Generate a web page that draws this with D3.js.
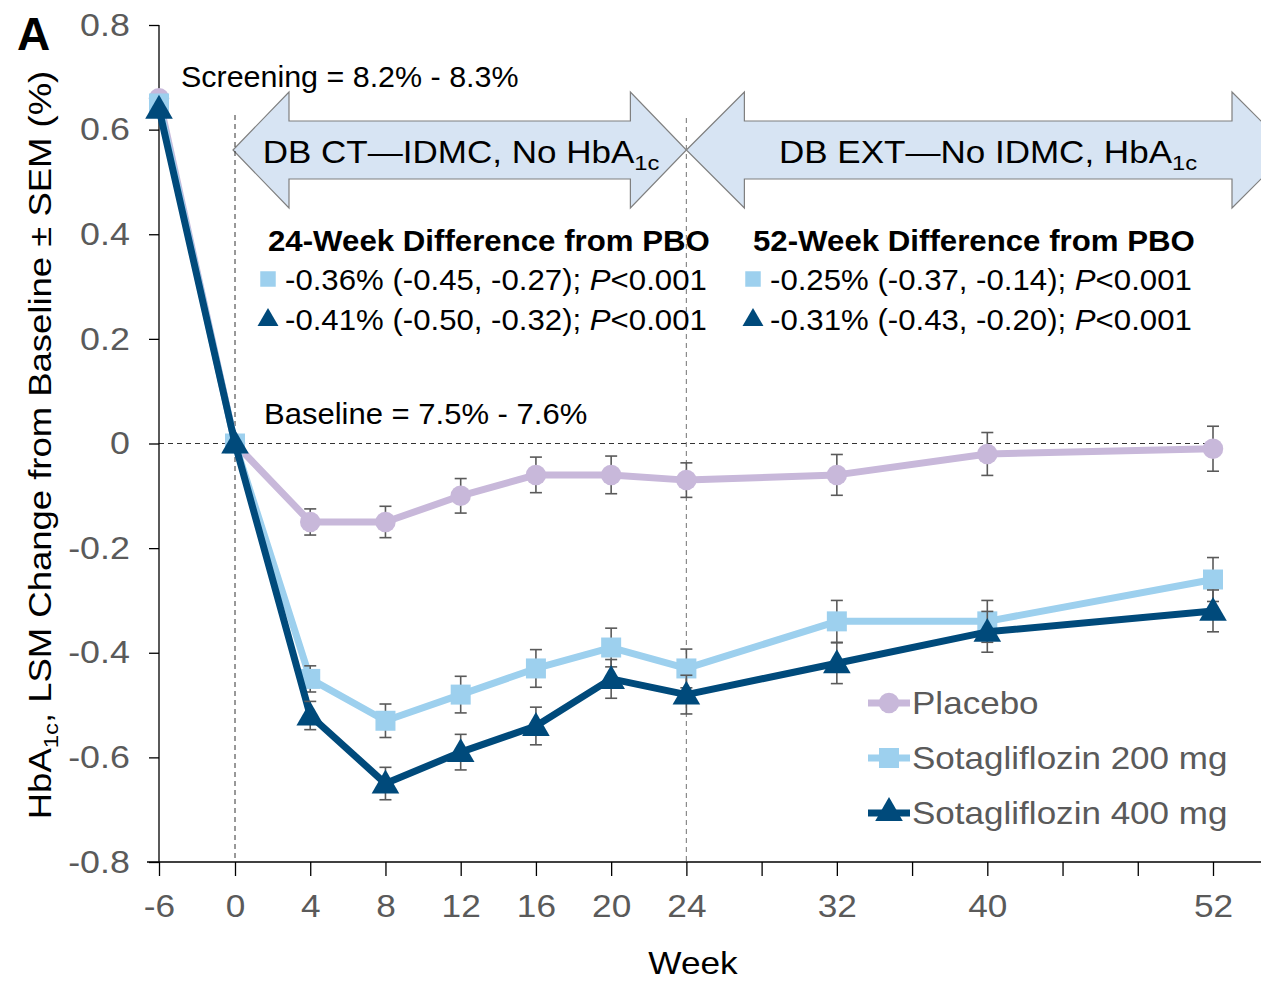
<!DOCTYPE html>
<html>
<head>
<meta charset="utf-8">
<script src="https://cdn.jsdelivr.net/npm/d3@7"></script>
<style>
  html, body { margin: 0; padding: 0; background: #fff; }
  svg { display: block; font-family: "Liberation Sans", Arial, sans-serif; }
</style>
</head>
<body>
<svg id="chart" width="1261" height="984"></svg>
<script>
// Study weeks (week -6 is screening)
const weeks = [-6, 0, 4, 8, 12, 16, 20, 24, 32, 40, 52];

// LSM change from baseline in HbA1c (%)
const placebo = [0.66, 0, -0.15, -0.15, -0.10, -0.06, -0.06, -0.07, -0.06, -0.02, -0.01];
const sota200 = [0.65, 0, -0.45, -0.53, -0.48, -0.43, -0.39, -0.43, -0.34, -0.34, -0.26];
const sota400 = [0.64, 0, -0.52, -0.65, -0.59, -0.54, -0.45, -0.48, -0.42, -0.36, -0.32];

// Standard errors of the mean (none at screening / baseline)
const placeboSem = [null, null, 0.025, 0.030, 0.033, 0.034, 0.036, 0.033, 0.039, 0.041, 0.043];
const sota200Sem = [null, null, 0.025, 0.032, 0.035, 0.036, 0.037, 0.037, 0.040, 0.040, 0.042];
const sota400Sem = [null, null, 0.027, 0.031, 0.034, 0.036, 0.037, 0.037, 0.039, 0.039, 0.040];

const seriesNames = ["Placebo", "Sotagliflozin 200 mg", "Sotagliflozin 400 mg"];

// Axis ticks
const xTicks = [-6, 0, 4, 8, 12, 16, 20, 24, 28, 32, 36, 40, 44, 48, 52];
const xTickLabels = ["-6", "0", "4", "8", "12", "16", "20", "24", "", "32", "", "40", "", "", "52"];
const yTicks = [0.8, 0.6, 0.4, 0.2, 0, -0.2, -0.4, -0.6, -0.8];
const yTickLabels = ["0.8", "0.6", "0.4", "0.2", "0", "-0.2", "-0.4", "-0.6", "-0.8"];

// Treatment-difference annotations
const diff24Title = "24-Week Difference from PBO";
const diff24 = ["-0.36% (-0.45, -0.27); ", "-0.41% (-0.50, -0.32); "];
const diff52Title = "52-Week Difference from PBO";
const diff52 = ["-0.25% (-0.37, -0.14); ", "-0.31% (-0.43, -0.20); "];
const pText = "<0.001";

const colors = ["#c8b8da", "#9dd0ee", "#004a7b"];
const shapes = [d3.symbolCircle, d3.symbolSquare, d3.symbolTriangle];
const shapeSizes = [330, 400, 330];
const tickGray = "#5a5a5a";

const svg = d3.select("#chart");

// Screening week sits one 4-week interval left of baseline
const x = d3.scaleLinear().domain([-6, 0, 52]).range([159, 235, 1213]);
const y = d3.scaleLinear().domain([-0.8, 0.8]).range([862, 25]);

// Text helper: places a label with a slightly widened (Arial-like) face
function label(parent, px, py, size, sx, anchor) {
  return parent.append("text")
    .attr("transform", `translate(${px},${py}) scale(${sx},1)`)
    .attr("font-size", size).attr("text-anchor", anchor || "start").attr("fill", "#000");
}

// ---- Phase arrows ----
function doubleArrow(x0, x1, cy, shaftH, headH, headL) {
  const p = d3.path();
  p.moveTo(x0, cy);
  p.lineTo(x0 + headL, cy - headH / 2);
  p.lineTo(x0 + headL, cy - shaftH / 2);
  p.lineTo(x1 - headL, cy - shaftH / 2);
  p.lineTo(x1 - headL, cy - headH / 2);
  p.lineTo(x1, cy);
  p.lineTo(x1 - headL, cy + headH / 2);
  p.lineTo(x1 - headL, cy + shaftH / 2);
  p.lineTo(x0 + headL, cy + shaftH / 2);
  p.lineTo(x0 + headL, cy + headH / 2);
  p.closePath();
  return p.toString();
}
const arrowG = svg.append("g");
arrowG.append("path")
  .attr("d", doubleArrow(x(0) - 2, x(24), 150, 58, 116, 56))
  .attr("fill", "#d7e4f3").attr("stroke", "#7f7f7f").attr("stroke-width", 1.2);
arrowG.append("path")
  .attr("d", doubleArrow(x(24), 1290, 150, 58, 116, 58))
  .attr("fill", "#d7e4f3").attr("stroke", "#7f7f7f").attr("stroke-width", 1.2);

function phaseText(cx, main) {
  const t = label(arrowG, cx, 163, 31, 1.13, "middle");
  t.append("tspan").text(main);
  t.append("tspan").text("1c").attr("font-size", 21).attr("dy", 7);
}
phaseText(461, "DB CT\u2014IDMC, No HbA");
phaseText(988, "DB EXT\u2014No IDMC, HbA");

// ---- Reference lines ----
svg.append("line")
  .attr("x1", x(0)).attr("x2", x(0)).attr("y1", 115).attr("y2", y(-0.8))
  .attr("stroke", "#333").attr("stroke-width", 1).attr("stroke-dasharray", "5,4");
svg.append("line")
  .attr("x1", x(24)).attr("x2", x(24)).attr("y1", 118).attr("y2", y(-0.8))
  .attr("stroke", "#8a8a8a").attr("stroke-width", 1.2).attr("stroke-dasharray", "5,4");
svg.append("line")
  .attr("x1", x(-6)).attr("x2", x(52) - 8).attr("y1", y(0)).attr("y2", y(0))
  .attr("stroke", "#333").attr("stroke-width", 1).attr("stroke-dasharray", "5,4");

// ---- Axes ----
const xAxis = svg.append("g").attr("transform", `translate(0,${y(-0.8)})`)
  .call(d3.axisBottom(x).tickValues(xTicks).tickSize(14).tickPadding(18)
    .tickFormat((d, i) => xTickLabels[i]));
xAxis.select(".domain").remove();
xAxis.append("line").attr("x1", 147).attr("x2", 1261).attr("y1", 0).attr("y2", 0)
  .attr("stroke", "#000").attr("stroke-width", 1.3);
xAxis.selectAll(".tick line").attr("stroke", "#000").attr("stroke-width", 1.3);
xAxis.selectAll(".tick text").attr("font-size", 32).attr("fill", tickGray)
  .attr("font-family", "Liberation Sans, Arial, sans-serif")
  .attr("transform", "scale(1.1,1)");

const yAxis = svg.append("g").attr("transform", `translate(${x(-6)},0)`)
  .call(d3.axisLeft(y).tickValues(yTicks).tickSize(10).tickPadding(18)
    .tickFormat((d, i) => yTickLabels[i]));
yAxis.select(".domain").attr("d", `M0,${y(0.8)}V${y(-0.8)}`).attr("stroke", "#000").attr("stroke-width", 1.3);
yAxis.selectAll(".tick line").attr("stroke", "#000").attr("stroke-width", 1.3);
yAxis.selectAll(".tick text").attr("font-size", 32).attr("fill", tickGray)
  .attr("font-family", "Liberation Sans, Arial, sans-serif")
  .attr("x", -26).attr("transform", "scale(1.12,1)");

// Axis titles
label(svg, 693, 974, 32, 1.1, "middle").text("Week");
const yTitle = svg.append("text")
  .attr("transform", "translate(51,445) rotate(-90) scale(1.14,1)")
  .attr("text-anchor", "middle").attr("font-size", 32).attr("fill", "#000");
yTitle.append("tspan").text("HbA");
yTitle.append("tspan").text("1c").attr("font-size", 21).attr("dy", 7);
yTitle.append("tspan").text(", LSM Change from Baseline \u00b1 SEM (%)").attr("dy", -7);

// Panel letter
svg.append("text").attr("x", 17).attr("y", 50).attr("font-size", 46)
  .attr("font-weight", "bold").attr("fill", "#000").text("A");

// Range annotations
label(svg, 181, 87, 29, 1.05).text("Screening = 8.2% - 8.3%");
label(svg, 264, 424, 29, 1.07).text("Baseline = 7.5% - 7.6%");

// ---- Difference blocks ----
function diffBlock(x0, title, rows) {
  const g = svg.append("g");
  label(g, x0 + 8, 251, 29, 1.077).attr("font-weight", "bold").text(title);
  rows.forEach((r, i) => {
    const cy = 279 + i * 40;
    g.append("path")
      .attr("d", d3.symbol().type(i === 0 ? d3.symbolSquare : d3.symbolTriangle).size(i === 0 ? 240 : 190)())
      .attr("transform", `translate(${x0 + 8},${cy + (i === 0 ? 0 : 1)})`)
      .attr("fill", colors[i + 1]);
    const t = label(g, x0 + 25, cy + 11, 29, 1.075);
    t.append("tspan").text(r);
    t.append("tspan").text("P").attr("font-style", "italic");
    t.append("tspan").text(pText);
  });
}
diffBlock(260, diff24Title, diff24);
diffBlock(745, diff52Title, diff52);

// ---- Series ----
const allSeries = [placebo, sota200, sota400].map((vals, k) => ({
  name: seriesNames[k],
  color: colors[k],
  shape: shapes[k],
  size: shapeSizes[k],
  points: weeks.map((w, i) => ({ w, v: vals[i], sem: [placeboSem, sota200Sem, sota400Sem][k][i] }))
}));

const line = d3.line().x(d => x(d.w)).y(d => y(d.v));

allSeries.forEach(s => {
  const g = svg.append("g");
  g.append("path").datum(s.points).attr("d", line)
    .attr("fill", "none").attr("stroke", s.color).attr("stroke-width", 7)
    .attr("stroke-linejoin", "round");
  const eb = g.selectAll(".eb").data(s.points.filter(p => p.sem != null)).join("g");
  eb.append("line")
    .attr("x1", d => x(d.w)).attr("x2", d => x(d.w))
    .attr("y1", d => y(d.v + d.sem)).attr("y2", d => y(d.v - d.sem))
    .attr("stroke", "#5a5a5a").attr("stroke-width", 1.6);
  [1, -1].forEach(sg => {
    eb.append("line")
      .attr("x1", d => x(d.w) - 6).attr("x2", d => x(d.w) + 6)
      .attr("y1", d => y(d.v + sg * d.sem)).attr("y2", d => y(d.v + sg * d.sem))
      .attr("stroke", "#5a5a5a").attr("stroke-width", 1.6);
  });
  g.selectAll(".mk").data(s.points).join("path")
    .attr("d", d3.symbol().type(s.shape).size(s.size)())
    .attr("transform", d => `translate(${x(d.w)},${y(d.v) + (s.shape === d3.symbolTriangle ? 2 : 0)})`)
    .attr("fill", s.color);
});

// ---- Legend ----
const legend = svg.append("g");
allSeries.forEach((s, i) => {
  const cy = 703 + i * 55;
  legend.append("line").attr("x1", 868).attr("x2", 910).attr("y1", cy).attr("y2", cy)
    .attr("stroke", s.color).attr("stroke-width", 7);
  legend.append("path").attr("d", d3.symbol().type(s.shape).size(s.size)())
    .attr("transform", `translate(889,${cy})`).attr("fill", s.color);
  label(legend, 912, cy + 11, 32, 1.095).attr("fill", tickGray).text(s.name);
});
</script>
</body>
</html>
